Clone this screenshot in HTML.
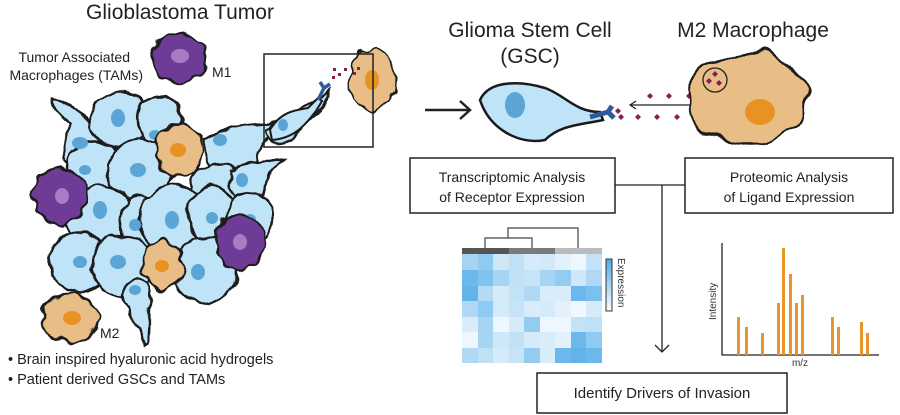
<!DOCTYPE html>
<html><head><meta charset="utf-8"><style>
html,body{margin:0;padding:0;background:#fff;}
svg{display:block;font-family:"Liberation Sans",sans-serif;}
</style></head><body>
<svg width="900" height="415" viewBox="0 0 900 415" xmlns="http://www.w3.org/2000/svg">
<defs>
<filter id="wob" x="-20%" y="-20%" width="140%" height="140%">
<feTurbulence type="fractalNoise" baseFrequency="0.06" numOctaves="2" seed="3" result="n"/>
<feDisplacementMap in="SourceGraphic" in2="n" scale="9" xChannelSelector="R" yChannelSelector="G"/>
</filter>
<filter id="spik" x="-30%" y="-30%" width="160%" height="160%">
<feTurbulence type="fractalNoise" baseFrequency="0.09" numOctaves="1" seed="5" result="n"/>
<feDisplacementMap in="SourceGraphic" in2="n" scale="14" xChannelSelector="R" yChannelSelector="G"/>
</filter>
<filter id="spikL" x="-30%" y="-30%" width="160%" height="160%">
<feTurbulence type="fractalNoise" baseFrequency="0.045" numOctaves="1" seed="8" result="n"/>
<feDisplacementMap in="SourceGraphic" in2="n" scale="22" xChannelSelector="R" yChannelSelector="G"/>
</filter>
</defs>

<text x="180" y="19" font-size="21" text-anchor="middle" fill="#222">Glioblastoma Tumor</text>
<text x="130" y="62" font-size="14" text-anchor="end" fill="#222">Tumor Associated</text>
<text x="143" y="80" font-size="14" text-anchor="end" fill="#222">Macrophages (TAMs)</text>
<text x="212" y="77" font-size="14" fill="#222">M1</text>
<text x="100" y="338" font-size="14" fill="#222">M2</text>

<!-- cluster -->
<g stroke="#1a1a1a" stroke-width="2.5" filter="url(#wob)">
<path d="M52,98 C70,100 85,115 95,130 C110,150 100,170 80,170 C60,168 62,140 70,125 C62,115 50,108 52,98Z" fill="#bfe3f7"/>
<ellipse cx="120" cy="120" rx="30" ry="28" fill="#bfe3f7"/>
<ellipse cx="160" cy="120" rx="22" ry="24" fill="#bfe3f7"/>
<path d="M205,140 C230,125 260,120 285,125 C265,135 260,150 255,165 C240,180 210,175 205,160Z" fill="#bfe3f7"/>
<ellipse cx="95" cy="168" rx="28" ry="26" fill="#bfe3f7"/>
<ellipse cx="140" cy="170" rx="32" ry="30" fill="#bfe3f7"/>
<ellipse cx="220" cy="190" rx="30" ry="26" fill="#bfe3f7"/>
<path d="M230,170 C250,160 270,158 285,160 C268,168 265,185 262,200 C250,210 235,200 230,185Z" fill="#bfe3f7"/>
<ellipse cx="100" cy="218" rx="33" ry="33" fill="#bfe3f7"/>
<ellipse cx="140" cy="225" rx="20" ry="30" fill="#bfe3f7"/>
<ellipse cx="175" cy="220" rx="35" ry="35" fill="#bfe3f7"/>
<ellipse cx="212" cy="215" rx="24" ry="30" fill="#bfe3f7"/>
<ellipse cx="250" cy="218" rx="24" ry="26" fill="#bfe3f7"/>
<ellipse cx="80" cy="262" rx="30" ry="30" fill="#bfe3f7"/>
<ellipse cx="122" cy="265" rx="30" ry="30" fill="#bfe3f7"/>
<ellipse cx="205" cy="270" rx="32" ry="33" fill="#bfe3f7"/>
<path d="M125,285 C140,270 155,285 150,305 C148,320 152,335 145,345 C140,330 130,320 128,310 C120,300 120,290 125,285Z" fill="#bfe3f7"/>
<path d="M265,130 C300,110 320,100 330,90 C325,110 310,120 300,130 C290,140 270,150 265,130Z" fill="#bfe3f7"/>
</g>
<g fill="#5aa5d6">
<ellipse cx="80" cy="143" rx="8" ry="6"/><ellipse cx="118" cy="118" rx="7" ry="9"/>
<ellipse cx="155" cy="135" rx="6" ry="5"/><ellipse cx="220" cy="140" rx="7" ry="6"/>
<ellipse cx="85" cy="170" rx="6" ry="5"/><ellipse cx="138" cy="170" rx="8" ry="7"/>
<ellipse cx="242" cy="180" rx="6" ry="7"/><ellipse cx="100" cy="210" rx="7" ry="9"/>
<ellipse cx="135" cy="225" rx="6" ry="6"/><ellipse cx="172" cy="220" rx="7" ry="9"/>
<ellipse cx="212" cy="218" rx="6" ry="6"/><ellipse cx="80" cy="262" rx="7" ry="6"/>
<ellipse cx="118" cy="262" rx="8" ry="7"/><ellipse cx="198" cy="272" rx="7" ry="8"/>
<ellipse cx="135" cy="290" rx="6" ry="5"/><ellipse cx="250" cy="220" rx="6" ry="6"/>
</g>
<!-- TAMs -->
<g stroke="#1a1a1a" stroke-width="2.5" filter="url(#spik)">
<ellipse cx="180" cy="150" rx="24" ry="25" fill="#e8bd86"/>
<ellipse cx="163" cy="265" rx="20" ry="24" fill="#e8bd86"/>
<ellipse cx="70" cy="318" rx="28" ry="24" fill="#e8bd86"/>
<ellipse cx="60" cy="196" rx="27" ry="28" fill="#6e3a96"/>
<ellipse cx="240" cy="242" rx="25" ry="28" fill="#6e3a96"/>
<ellipse cx="180" cy="58" rx="28" ry="24" fill="#6e3a96"/>
</g>
<g>
<ellipse cx="178" cy="150" rx="8" ry="7" fill="#e89224"/>
<ellipse cx="162" cy="266" rx="7" ry="6" fill="#e89224"/>
<ellipse cx="72" cy="318" rx="9" ry="7" fill="#e89224"/>
<ellipse cx="62" cy="196" rx="7" ry="8" fill="#a67cc4"/>
<ellipse cx="240" cy="242" rx="7" ry="8" fill="#a67cc4"/>
<ellipse cx="180" cy="56" rx="9" ry="7" fill="#a67cc4"/>
</g>

<!-- inset -->
<g stroke="#1a1a1a" stroke-width="2" filter="url(#spik)"><ellipse cx="372" cy="80" rx="24" ry="30" fill="#e8bd86"/></g>
<ellipse cx="372" cy="80" rx="7" ry="10" fill="#e89224"/>
<rect x="264" y="54" width="109" height="93" fill="none" stroke="#222" stroke-width="1.5"/>
<path d="M270,130 C280,112 295,110 308,108 L318,98 L322,101 L316,111 C305,125 295,138 272,140Z" fill="#bfe3f7" stroke="#1a1a1a" stroke-width="2"/>
<ellipse cx="283" cy="125" rx="5" ry="6" fill="#5aa5d6"/>
<path d="M318,100 L324,88 M324,88 L320,82 M324,88 L330,84" stroke="#2d5c9c" stroke-width="3.5" fill="none"/>
<g fill="#8a1d54"><rect x="333" y="68" width="3" height="3"/><rect x="338" y="73" width="3" height="3"/><rect x="332" y="76" width="3" height="3"/><rect x="344" y="68" width="3" height="3"/><rect x="353" y="72" width="3" height="3"/><rect x="357" y="67" width="3" height="3"/></g>

<!-- top right -->
<text x="530" y="37" font-size="21" text-anchor="middle" fill="#222">Glioma Stem Cell</text>
<text x="530" y="63" font-size="21" text-anchor="middle" fill="#222">(GSC)</text>
<text x="753" y="37" font-size="21" text-anchor="middle" fill="#222">M2 Macrophage</text>
<path d="M425,110 L470,110 M460,101 L470,110 L460,119" stroke="#222" stroke-width="2.5" fill="none"/>
<path d="M480,100 C490,78 525,82 545,88 C565,95 575,112 600,112 L603,120 C580,125 560,125 545,140 C520,145 490,130 480,100Z" fill="#bfe3f7" stroke="#1a1a1a" stroke-width="2.5"/>
<ellipse cx="515" cy="105" rx="10" ry="13" fill="#5aa5d6"/>
<path d="M590,117 L608,112 M608,112 L612,106 M608,112 L614,118" stroke="#2d5c9c" stroke-width="5" fill="none"/>
<g fill="#8a1d54"><path d="M618,108 l3,3 -3,3 -3,-3z"/><path d="M621,114 l3,3 -3,3 -3,-3z"/></g>
<path d="M697,105 L630,105 M636,101 L630,105 L636,109" stroke="#222" stroke-width="1.2" fill="none"/>
<g fill="#8a1d54">
<path d="M650,93 l3,3 -3,3 -3,-3z"/><path d="M669,93 l3,3 -3,3 -3,-3z"/><path d="M689,93 l3,3 -3,3 -3,-3z"/>
<path d="M638,114 l3,3 -3,3 -3,-3z"/><path d="M657,114 l3,3 -3,3 -3,-3z"/><path d="M677,114 l3,3 -3,3 -3,-3z"/><path d="M697,114 l3,3 -3,3 -3,-3z"/>
</g>
<g stroke="#1a1a1a" stroke-width="2.5" filter="url(#spikL)"><ellipse cx="748" cy="98" rx="60" ry="46" fill="#e8bd86"/></g>
<ellipse cx="760" cy="112" rx="15" ry="13" fill="#e89224"/>
<circle cx="715" cy="80" r="12" fill="none" stroke="#222" stroke-width="1.3"/>
<g fill="#8a1d54"><path d="M715,71 l3,3 -3,3 -3,-3z"/><path d="M709,78 l3,3 -3,3 -3,-3z"/><path d="M719,80 l3,3 -3,3 -3,-3z"/></g>

<!-- boxes -->
<rect x="410" y="158" width="205" height="55" fill="#fff" stroke="#222" stroke-width="1.5"/>
<text x="512" y="182" font-size="14" text-anchor="middle" fill="#222">Transcriptomic Analysis</text>
<text x="512" y="202" font-size="14" text-anchor="middle" fill="#222">of Receptor Expression</text>
<rect x="685" y="158" width="208" height="55" fill="#fff" stroke="#222" stroke-width="1.5"/>
<text x="789" y="182" font-size="14" text-anchor="middle" fill="#222">Proteomic Analysis</text>
<text x="789" y="202" font-size="14" text-anchor="middle" fill="#222">of Ligand Expression</text>
<path d="M615,185 L685,185 M662,185 L662,352 M655,345 L662,352 L669,345" stroke="#222" stroke-width="1.3" fill="none"/>
<rect x="537" y="373" width="250" height="40" fill="#fff" stroke="#222" stroke-width="1.5"/>
<text x="662" y="398" font-size="15" text-anchor="middle" fill="#222">Identify Drivers of Invasion</text>

<!-- heatmap -->
<path d="M485,248 V238 H532 V248 M508,238 V228 H578 V248" stroke="#444" stroke-width="1.2" fill="none"/>
<rect x="462" y="248" width="47" height="6" fill="#555"/><rect x="509" y="248" width="46" height="6" fill="#7a7a7a"/><rect x="555" y="248" width="47" height="6" fill="#bbb"/>
<g>
<rect x="462" y="254" width="16" height="16" fill="#a6d3f2"/><rect x="478" y="254" width="15" height="16" fill="#8ecaf1"/><rect x="493" y="254" width="16" height="16" fill="#cfe8f8"/><rect x="509" y="254" width="15" height="16" fill="#bfe1f6"/><rect x="524" y="254" width="16" height="16" fill="#d5ebf9"/><rect x="540" y="254" width="15" height="16" fill="#d1e9f9"/><rect x="555" y="254" width="16" height="16" fill="#e2f1fb"/><rect x="571" y="254" width="15" height="16" fill="#eef7fd"/><rect x="586" y="254" width="16" height="16" fill="#c4e2f6"/>
<rect x="462" y="270" width="16" height="16" fill="#6bb9ec"/><rect x="478" y="270" width="15" height="16" fill="#80c3ef"/><rect x="493" y="270" width="16" height="16" fill="#a6d4f3"/><rect x="509" y="270" width="15" height="16" fill="#c0e1f6"/><rect x="524" y="270" width="16" height="16" fill="#c6e4f7"/><rect x="540" y="270" width="15" height="16" fill="#a6d4f3"/><rect x="555" y="270" width="16" height="16" fill="#94ccf1"/><rect x="571" y="270" width="15" height="16" fill="#cfe8f8"/><rect x="586" y="270" width="16" height="16" fill="#b0d8f4"/>
<rect x="462" y="286" width="16" height="15" fill="#61b3ea"/><rect x="478" y="286" width="15" height="15" fill="#b4daf4"/><rect x="493" y="286" width="16" height="15" fill="#d5ebf9"/><rect x="509" y="286" width="15" height="15" fill="#c2e2f6"/><rect x="524" y="286" width="16" height="15" fill="#b0d8f4"/><rect x="540" y="286" width="15" height="15" fill="#d8edf9"/><rect x="555" y="286" width="16" height="15" fill="#d8edf9"/><rect x="571" y="286" width="15" height="15" fill="#6bb9ec"/><rect x="586" y="286" width="16" height="15" fill="#7cc1ee"/>
<rect x="462" y="301" width="16" height="16" fill="#b0d8f4"/><rect x="478" y="301" width="15" height="16" fill="#8ecaf1"/><rect x="493" y="301" width="16" height="16" fill="#d5ebf9"/><rect x="509" y="301" width="15" height="16" fill="#c6e4f7"/><rect x="524" y="301" width="16" height="16" fill="#d8edf9"/><rect x="540" y="301" width="15" height="16" fill="#d5ebf9"/><rect x="555" y="301" width="16" height="16" fill="#e2f1fb"/><rect x="571" y="301" width="15" height="16" fill="#f1f8fd"/><rect x="586" y="301" width="16" height="16" fill="#d5ebf9"/>
<rect x="462" y="317" width="16" height="15" fill="#d8edf9"/><rect x="478" y="317" width="15" height="15" fill="#a6d4f3"/><rect x="493" y="317" width="16" height="15" fill="#eef7fd"/><rect x="509" y="317" width="15" height="15" fill="#d5ebf9"/><rect x="524" y="317" width="16" height="15" fill="#94ccf1"/><rect x="540" y="317" width="15" height="15" fill="#eef7fd"/><rect x="555" y="317" width="16" height="15" fill="#eef7fd"/><rect x="571" y="317" width="15" height="15" fill="#c2e2f6"/><rect x="586" y="317" width="16" height="15" fill="#bfe1f6"/>
<rect x="462" y="332" width="16" height="16" fill="#eef7fd"/><rect x="478" y="332" width="15" height="16" fill="#a6d4f3"/><rect x="493" y="332" width="16" height="16" fill="#cfe8f8"/><rect x="509" y="332" width="15" height="16" fill="#c0e1f6"/><rect x="524" y="332" width="16" height="16" fill="#d5ebf9"/><rect x="540" y="332" width="15" height="16" fill="#d8edf9"/><rect x="555" y="332" width="16" height="16" fill="#e2f1fb"/><rect x="571" y="332" width="15" height="16" fill="#6bb9ec"/><rect x="586" y="332" width="16" height="16" fill="#8ecaf1"/>
<rect x="462" y="348" width="16" height="15" fill="#b0d8f4"/><rect x="478" y="348" width="15" height="15" fill="#bfe1f6"/><rect x="493" y="348" width="16" height="15" fill="#d5ebf9"/><rect x="509" y="348" width="15" height="15" fill="#c6e4f7"/><rect x="524" y="348" width="16" height="15" fill="#94ccf1"/><rect x="540" y="348" width="15" height="15" fill="#d8edf9"/><rect x="555" y="348" width="16" height="15" fill="#6bb9ec"/><rect x="571" y="348" width="15" height="15" fill="#61b3ea"/><rect x="586" y="348" width="16" height="15" fill="#6bb9ec"/>
</g>
<defs><linearGradient id="cb" x1="0" y1="0" x2="0" y2="1"><stop offset="0" stop-color="#4fa8e8"/><stop offset="1" stop-color="#fff"/></linearGradient></defs>
<rect x="606" y="259" width="6" height="52" fill="url(#cb)" stroke="#333" stroke-width="1"/>
<text transform="translate(618,258) rotate(90)" font-size="10" fill="#333">Expression</text>

<!-- bar chart -->
<path d="M722,243 V355 H879" stroke="#222" stroke-width="1.3" fill="none"/>
<g fill="#e8952b">
<rect x="737" y="317" width="3" height="38"/><rect x="745" y="327" width="3" height="28"/><rect x="761" y="333" width="3" height="22"/>
<rect x="777" y="303" width="3" height="52"/><rect x="782" y="248" width="3" height="107"/><rect x="789" y="274" width="3" height="81"/>
<rect x="795" y="303" width="3" height="52"/><rect x="801" y="295" width="3" height="60"/><rect x="831" y="317" width="3" height="38"/>
<rect x="837" y="327" width="3" height="28"/><rect x="860" y="322" width="3" height="33"/><rect x="866" y="333" width="3" height="22"/>
</g>
<text x="800" y="366" font-size="10" text-anchor="middle" fill="#333">m/z</text>
<text transform="translate(716,320) rotate(-90)" font-size="10" fill="#333">Intensity</text>

<!-- bullets -->
<text x="8" y="364" font-size="14.5" fill="#222">• Brain inspired hyaluronic acid hydrogels</text>
<text x="8" y="384" font-size="14.5" fill="#222">• Patient derived GSCs and TAMs</text>
</svg>
</body></html>
